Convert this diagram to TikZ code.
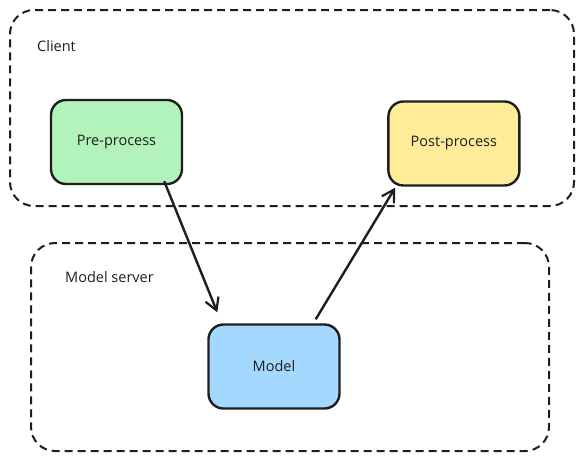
\documentclass[tikz,border=0pt]{standalone}
\usepackage{fontspec}
\setmainfont{Open Sans}
\usetikzlibrary{arrows.meta, positioning, calc}
\definecolor{inkdark}{HTML}{1E1E1E}
\definecolor{prefill}{HTML}{B2F2BB}
\definecolor{postfill}{HTML}{FFEC99}
\definecolor{modelfill}{HTML}{A5D8FF}

\begin{document}
\begin{tikzpicture}[
    x=1pt, y=-1pt,
    >={Straight Barb[length=12pt, width=14pt, line width=2.2pt]},
    every node/.style={inner sep=0pt},
    container/.style={
        draw=inkdark, line width=2pt, dash pattern=on 8pt off 5pt,
        rounded corners=24pt
    },
    stage/.style={
        draw=inkdark, line width=2.4pt, rounded corners=15pt,
        minimum width=131pt, minimum height=84pt,
        font=\fontsize{14.5}{17}\selectfont, text=inkdark, align=center
    },
    arrstyle/.style={->, line width=2.4pt, inkdark},
    tag/.style={font=\fontsize{14.5}{17}\selectfont, text=inkdark, anchor=west},
]
\useasboundingbox (0,0) rectangle (583,461);

% === Containers ===
\node[container, minimum width=564pt, minimum height=196pt] (client) at (292,108) {};
\node[tag] (clientlbl) at (37,46) {Client};

\node[container, minimum width=518pt, minimum height=208pt] (server) at (290,347) {};
\node[tag] (serverlbl) at (65,277) {Model server};

% === Stages ===
\node[stage, fill=prefill] (pre) at (116.5,142) {Pre-process};
\node[stage, fill=postfill, right=204pt of pre, yshift=-1.5pt] (post) {Post-process};
\node[stage, fill=modelfill] (model) at (274,366.5) {Model};

% === Arrows ===
\draw[arrstyle] ($(pre.south east)+(-19,-4)$) -- ($(model.north west)+(10,-11)$);
\draw[arrstyle] ($(model.north east)+(-25,-4)$) -- ($(post.south west)+(8,1)$);

\end{tikzpicture}
\end{document}
